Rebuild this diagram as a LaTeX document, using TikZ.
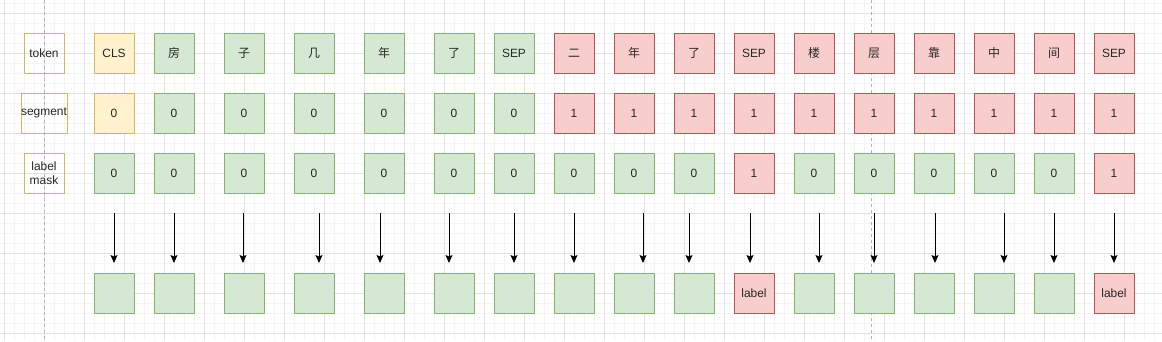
\documentclass[tikz,border=0pt]{standalone}
\usepackage{fontspec}
\setmainfont{Liberation Sans}
\newfontfamily\cjk{Noto Sans CJK SC}
\usetikzlibrary{arrows.meta}
\definecolor{ylwfill}{HTML}{FFF2CC}
\definecolor{ylwline}{HTML}{D6B656}
\definecolor{grnfill}{HTML}{D5E8D4}
\definecolor{grnline}{HTML}{82B366}
\definecolor{redfill}{HTML}{F8CECC}
\definecolor{redline}{HTML}{B85450}
\definecolor{gridmajor}{HTML}{E2E2E2}
\definecolor{gridminor}{HTML}{F4F4F4}
\definecolor{pagebreak}{HTML}{B4B4B4}

\begin{document}
\begin{tikzpicture}[x=1bp, y=-1bp, line join=round,
    cell/.style={minimum size=40bp, inner sep=0pt, line width=0.75bp,
                 font=\fontsize{12}{14}\selectfont, text=black!85},
    lbl/.style={cell, draw=ylwline, align=center},
    ylw/.style={cell, draw=ylwline, fill=ylwfill},
    grn/.style={cell, draw=grnline, fill=grnfill},
    red/.style={cell, draw=redline, fill=redfill}]

    % Canvas
    \fill[white] (0,0) rectangle (1162,341);
    \useasboundingbox (0,0) rectangle (1162,341);

    % Grid
    \foreach \gx in {4.5,14.5,...,1164.5}
      \draw[gridminor, line width=0.8bp] (\gx,0) -- (\gx,341);
    \foreach \gy in {3.3,13.3,...,343.3}
      \draw[gridminor, line width=0.8bp] (0,\gy) -- (1162,\gy);
    \foreach \gx in {4.5,44.5,...,1164.5}
      \draw[gridmajor, line width=0.8bp] (\gx,0) -- (\gx,341);
    \foreach \gy in {13.3,53.3,...,333.3}
      \draw[gridmajor, line width=0.8bp] (0,\gy) -- (1162,\gy);

    % Page breaks
    \draw[pagebreak, dash pattern=on 3bp off 3bp, line width=0.8bp] (44.5,0) -- (44.5,341);
    \draw[pagebreak, dash pattern=on 3bp off 3bp, line width=0.8bp] (871.5,0) -- (871.5,341);

    % Row titles
    \node[lbl] (ttok) at (44,53)  {token};
    \node[lbl] (tseg) at (44,113) {segment};
    \node[lbl] (tmsk) at (44,173) {label\\mask};

    % Columns: token, segment, label mask, output
    \foreach \i/\x/\tok/\st/\sg/\sm/\mk/\res in {
        1/114/CLS/ylw/0/grn/0/{},
        2/174/{\cjk 房}/grn/0/grn/0/{},
        3/244/{\cjk 子}/grn/0/grn/0/{},
        4/314/{\cjk 几}/grn/0/grn/0/{},
        5/384/{\cjk 年}/grn/0/grn/0/{},
        6/454/{\cjk 了}/grn/0/grn/0/{},
        7/514/SEP/grn/0/grn/0/{},
        8/574/{\cjk 二}/red/1/grn/0/{},
        9/634/{\cjk 年}/red/1/grn/0/{},
        10/694/{\cjk 了}/red/1/grn/0/{},
        11/754/SEP/red/1/red/1/label,
        12/814/{\cjk 楼}/red/1/grn/0/{},
        13/874/{\cjk 层}/red/1/grn/0/{},
        14/934/{\cjk 靠}/red/1/grn/0/{},
        15/994/{\cjk 中}/red/1/grn/0/{},
        16/1054/{\cjk 间}/red/1/grn/0/{},
        17/1114/SEP/red/1/red/1/label}
    {
      \node[\st] (tok\i) at (\x,53)  {\tok};
      \node[\st] (seg\i) at (\x,113) {\sg};
      \node[\sm] (msk\i) at (\x,173) {\mk};
      \node[\sm] (out\i) at (\x,293) {\res};
    }

    % Arrows
    \foreach \i/\x in {1/114,2/174,3/243,4/319,5/380,6/449,7/514,8/574,9/643,
                       10/689,11/750,12/819,13/874,14/935,15/1004,16/1054,17/1114}
    {
      \coordinate (from\i) at (\x,213);
      \coordinate (to\i) at (\x,263);
      \draw[-{Stealth[length=8bp, width=7bp, inset=1.5bp]}, line width=0.9bp] (from\i) -- (to\i);
    }

\end{tikzpicture}
\end{document}
